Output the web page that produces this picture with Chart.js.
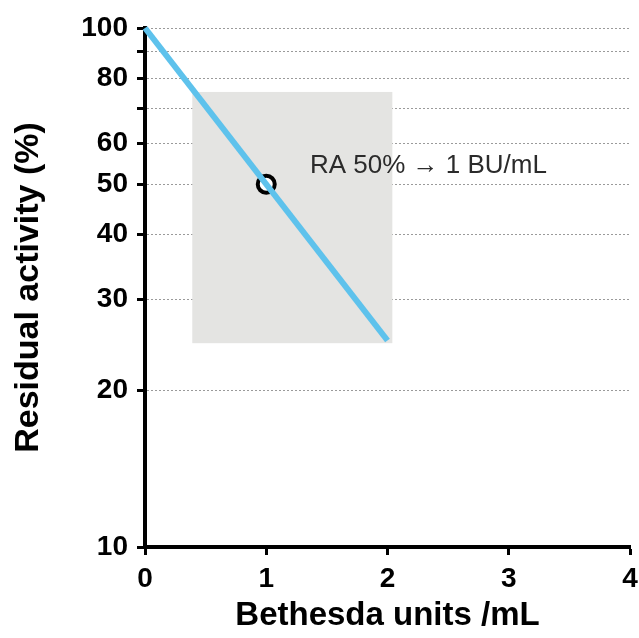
<!DOCTYPE html>
<html>
<head>
<meta charset="utf-8">
<script src="https://cdn.jsdelivr.net/npm/chart.js@4.4.1/dist/chart.umd.min.js"></script>
<style>
	html, body { margin: 0; padding: 0; background: #fff; }
	#wrap { width: 639px; height: 638px; }
</style>
</head>
<body>
<div id="wrap"><canvas id="chart" width="639" height="638"></canvas></div>
<script>
// Dilution line: residual activity vs Bethesda units.
const lineX = [ 0, 2 ];
const lineY = [ 100, 25 ];
// Marked point: RA 50% -> 1 BU/mL.
const markX = [ 1 ];
const markY = [ 50 ];
// Shaded valid range (x from/to, y from/to).
const rangeX = [ 0.39, 2.04 ];
const rangeY = [ 24.7, 75.3 ];
// Annotation anchor and text.
const noteX = 1.36;
const noteY = 54.2;
const noteText = 'RA 50% \u2192 1 BU/mL';
// Axes.
const xTicks = [ 0, 1, 2, 3, 4 ];
const yTicks = [ 10, 20, 30, 40, 50, 60, 70, 80, 90, 100 ];
const yLabels = [ 10, 20, 30, 40, 50, 60, 80, 100 ];

const FONT = '"Liberation Sans", Arial, Helvetica, sans-serif';

// Gray box behind the line, drawn in data coordinates.
const rangeBox = {
	id: 'rangeBox',
	beforeDatasetsDraw( chart ) {
		const { ctx, scales: { x, y } } = chart;
		const x0 = x.getPixelForValue( rangeX[ 0 ] );
		const x1 = x.getPixelForValue( rangeX[ 1 ] );
		const y0 = y.getPixelForValue( rangeY[ 1 ] );
		const y1 = y.getPixelForValue( rangeY[ 0 ] );
		ctx.save();
		ctx.fillStyle = '#e4e4e2';
		ctx.fillRect( x0, y0, x1 - x0, y1 - y0 );
		ctx.restore();
	},
};

// Text label next to the point.
const note = {
	id: 'note',
	afterDatasetsDraw( chart ) {
		const { ctx, scales: { x, y } } = chart;
		ctx.save();
		ctx.font = '26px ' + FONT;
		ctx.fillStyle = '#2b2b2b';
		ctx.textAlign = 'left';
		ctx.textBaseline = 'middle';
		ctx.fillText( noteText, x.getPixelForValue( noteX ), y.getPixelForValue( noteY ) );
		ctx.restore();
	},
};

new Chart( document.getElementById( 'chart' ), {
	type: 'scatter',
	data: {
		datasets: [
			{
				data: lineX.map( ( v, i ) => ( { x: v, y: lineY[ i ] } ) ),
				showLine: true,
				borderColor: '#5ec2ec',
				borderWidth: 6,
				borderCapStyle: 'butt',
				pointRadius: 0,
				clip: false,
			},
			{
				data: markX.map( ( v, i ) => ( { x: v, y: markY[ i ] } ) ),
				pointRadius: 8.5,
				pointBorderWidth: 4,
				pointBorderColor: '#000',
				pointBackgroundColor: '#fff',
				clip: false,
			},
		],
	},
	plugins: [ rangeBox, note ],
	options: {
		responsive: false,
		animation: false,
		events: [],
		// autoPadding off: the point marker would otherwise shrink the plot area.
		layout: { autoPadding: false, padding: { top: 28, right: 9, left: 0, bottom: 0 } },
		plugins: { legend: { display: false }, tooltip: { enabled: false } },
		scales: {
			x: {
				type: 'linear',
				min: 0,
				max: 4,
				afterBuildTicks: ( s ) => { s.ticks = xTicks.map( ( v ) => ( { value: v } ) ); },
				afterFit: ( s ) => { s.height = 91; s.paddingLeft = 0; s.paddingRight = 0; },
				ticks: { color: '#000', padding: 7, font: { family: FONT, size: 28, weight: 'bold' } },
				grid: { drawOnChartArea: false, tickColor: '#000', tickWidth: 3, tickLength: 8 },
				border: { color: '#000', width: 4 },
				title: {
					display: true,
					text: 'Bethesda units /mL',
					color: '#000',
					padding: { top: 0, bottom: 2 },
					font: { family: FONT, size: 33, weight: 'bold' },
				},
			},
			y: {
				type: 'logarithmic',
				min: 10,
				max: 100,
				afterBuildTicks: ( s ) => { s.ticks = yTicks.map( ( v ) => ( { value: v } ) ); },
				afterFit: ( s ) => { s.width = 145; s.paddingTop = 0; s.paddingBottom = 0; },
				ticks: {
					color: '#000',
					padding: 9,
					autoSkip: false,
					font: { family: FONT, size: 28, weight: 'bold' },
					callback: ( v ) => ( yLabels.includes( v ) ? String( v ) : '' ),
				},
				grid: {
					color: ( c ) => ( c.tick && c.tick.value === 10 ? 'rgba(0,0,0,0)' : '#9a9a9a' ),
					lineWidth: 1,
					tickColor: '#000',
					tickWidth: 3,
					tickLength: 8,
				},
				border: { color: '#000', width: 4, dash: [ 2, 2 ] },
				title: {
					display: true,
					text: 'Residual activity (%)',
					color: '#000',
					padding: { top: 8, bottom: 0 },
					font: { family: FONT, size: 34, weight: 'bold' },
				},
			},
		},
	},
} );
</script>
</body>
</html>
